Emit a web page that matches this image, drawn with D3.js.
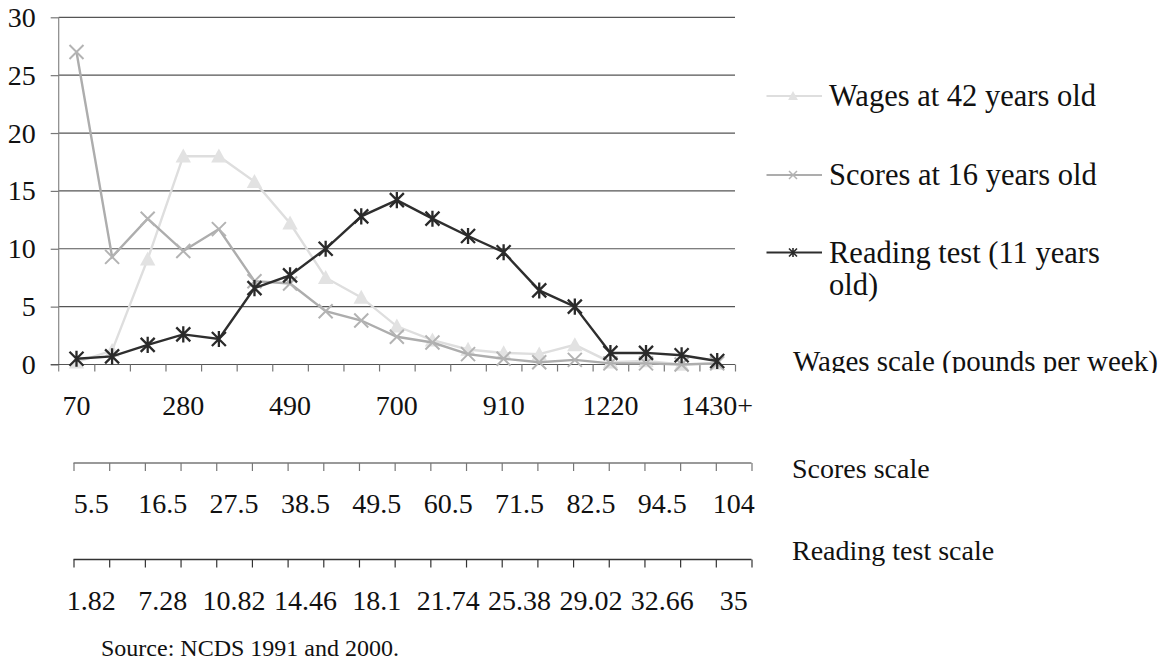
<!DOCTYPE html>
<html>
<head>
<meta charset="utf-8">
<script src="https://cdn.jsdelivr.net/npm/d3@7"></script>
<style>
  html, body { margin: 0; padding: 0; background: #fff; }
  svg { display: block; }
  text { font-family: "Liberation Serif", "Times New Roman", serif; fill: #111; }
</style>
</head>
<body>
<script>
// Distribution (%) by bin, 19 bins
const categories = d3.range(19);
const wages   = [0.2, 1.2, 9.1, 18.0, 18.0, 15.8, 12.2, 7.5, 5.8, 3.3, 2.1, 1.3, 1.0, 0.9, 1.7, 0.2, 0.3, 0.0, 0.1];
const scores  = [27.0, 9.3, 12.6, 9.8, 11.7, 7.2, 7.0, 4.6, 3.8, 2.4, 1.9, 0.9, 0.5, 0.2, 0.4, 0.1, 0.1, 0.0, 0.1];
const reading = [0.5, 0.7, 1.7, 2.6, 2.2, 6.6, 7.7, 10.0, 12.8, 14.2, 12.6, 11.1, 9.7, 6.4, 5.0, 1.0, 1.0, 0.8, 0.3];

const yTicks = [0, 5, 10, 15, 20, 25, 30];
const wageTickLabels    = ["70", "280", "490", "700", "910", "1220", "1430+"];
const scoreTickLabels   = ["5.5", "16.5", "27.5", "38.5", "49.5", "60.5", "71.5", "82.5", "94.5", "104"];
const readingTickLabels = ["1.82", "7.28", "10.82", "14.46", "18.1", "21.74", "25.38", "29.02", "32.66", "35"];

const seriesNames = ["Wages at 42 years old", "Scores at 16 years old", "Reading test (11 years old)"];

const W = 1176, H = 665;
const svg = d3.select("body").append("svg").attr("width", W).attr("height", H);

const plotL = 58.7, plotR = 735, plotT = 17.3, plotB = 364.5;
const x = d3.scaleLinear().domain([0, 19]).range([plotL, plotR]);
const y = d3.scaleLinear().domain([0, 30]).range([plotB, plotT]);

// gridlines
svg.append("g")
  .selectAll("line").data(yTicks.filter(d => d > 0)).join("line")
  .attr("x1", plotL).attr("x2", plotR)
  .attr("y1", d => y(d)).attr("y2", d => y(d))
  .attr("stroke", "#555").attr("stroke-width", 1.2);

// y axis
const yAxis = svg.append("g")
  .attr("transform", `translate(${plotL},0)`)
  .call(d3.axisLeft(y).tickValues(yTicks).tickSize(8).tickPadding(15).tickFormat(d3.format("d")));
yAxis.select(".domain").attr("stroke", "#888").attr("stroke-width", 1.2)
  .attr("d", `M0,${plotT}V${plotB + 7}`);
yAxis.selectAll(".tick line").attr("stroke", "#777").attr("stroke-width", 1.2);
yAxis.selectAll(".tick text").style("font-size", "28px").attr("fill", "#111");

// category (wages) axis
const xAxis = svg.append("g")
  .attr("transform", `translate(0,${plotB})`)
  .call(d3.axisBottom(x).tickValues(d3.range(1, 20)).tickSize(7).tickFormat(""));
xAxis.select(".domain").attr("stroke", "#555").attr("stroke-width", 1.2)
  .attr("d", `M${plotL - 8},0H${plotR}`);
xAxis.selectAll(".tick line").attr("stroke", "#777").attr("stroke-width", 1.2);

svg.append("g").selectAll("text").data(wageTickLabels).join("text")
  .attr("x", (d, i) => x(i * 3 + 0.5)).attr("y", 415)
  .attr("text-anchor", "middle").style("font-size", "28px").text(d => d);

// secondary scales drawn below the plot
const xs = d3.scaleLinear().domain([0, 19]).range([73.5, 751.5]);
function scaleAxis(yPos, labels, labelY, colour) {
  const g = svg.append("g").attr("transform", `translate(0,${yPos})`)
    .call(d3.axisBottom(xs).tickValues(d3.range(0, 20)).tickSize(8).tickFormat(""));
  g.select(".domain").attr("stroke", colour).attr("stroke-width", 1.4)
    .attr("d", `M${xs(0)},0H${xs(19)}`);
  g.selectAll(".tick line").attr("stroke", colour).attr("stroke-width", 1.2);
  svg.append("g").selectAll("text").data(labels).join("text")
    .attr("x", (d, i) => xs(i * 2 + 0.5)).attr("y", labelY)
    .attr("text-anchor", "middle").style("font-size", "28px").text(d => d);
}
scaleAxis(463, scoreTickLabels, 513, "#777");
scaleAxis(559.5, readingTickLabels, 610, "#333");

// marker shapes
function triangle(sel, s, fill) {
  sel.append("path").attr("d", `M0,${-s * 0.55}L${s * 0.55},${s * 0.45}L${-s * 0.55},${s * 0.45}Z`).attr("fill", fill);
}
function cross(sel, s, stroke, w) {
  const h = s / 2;
  sel.append("path").attr("d", `M${-h},${-h}L${h},${h}M${-h},${h}L${h},${-h}`)
    .attr("stroke", stroke).attr("stroke-width", w).attr("fill", "none");
}
function star(sel, s, stroke, w) {
  const h = s / 2;
  sel.append("path").attr("d", `M${-h},${-h}L${h},${h}M${-h},${h}L${h},${-h}M0,${-h * 1.15}V${h * 1.15}`)
    .attr("stroke", stroke).attr("stroke-width", w).attr("fill", "none");
}

const series = [
  { name: seriesNames[0], values: wages,   colour: "#dedede", marker: (s) => triangle(s, 14, "#e2e2e2"), legendMarker: (s) => triangle(s, 9, "#e2e2e2") },
  { name: seriesNames[1], values: scores,  colour: "#adadad", marker: (s) => cross(s, 14, "#b3b3b3", 2),    legendMarker: (s) => cross(s, 8, "#b3b3b3", 1.5) },
  { name: seriesNames[2], values: reading, colour: "#2e2e2e", marker: (s) => star(s, 14, "#2a2a2a", 2.3),   legendMarker: (s) => star(s, 8, "#2a2a2a", 1.6) }
];

const line = d3.line().x((d, i) => x(i + 0.5)).y(d => y(d));

series.forEach(s => {
  const g = svg.append("g");
  g.append("path").datum(s.values).attr("d", line)
    .attr("fill", "none").attr("stroke", s.colour).attr("stroke-width", 2.4);
  g.selectAll("g.m").data(s.values).join("g").attr("class", "m")
    .attr("transform", (d, i) => `translate(${x(i + 0.5)},${y(d)})`)
    .each(function () { s.marker(d3.select(this)); });
});

// legend
const legendY = [96, 175, 252.5];
series.forEach((s, i) => {
  const g = svg.append("g").attr("transform", `translate(0,${legendY[i]})`);
  g.append("line").attr("x1", 766.5).attr("x2", 822).attr("y1", 0).attr("y2", 0)
    .attr("stroke", s.colour).attr("stroke-width", 2);
  const m = g.append("g").attr("transform", "translate(793,0)");
  s.legendMarker(m);
  const t = g.append("text").attr("x", 829).attr("y", 10).style("font-size", "30.5px");
  if (i === 2) {
    t.append("tspan").attr("x", 829).attr("dy", 0).text("Reading test (11 years");
    t.append("tspan").attr("x", 829).attr("dy", 32).text("old)");
  } else {
    t.text(s.name);
  }
});

// scale captions
svg.append("clipPath").attr("id", "capClip")
  .append("rect").attr("x", 760).attr("y", 330).attr("width", 416).attr("height", 43);
svg.append("text").attr("x", 793).attr("y", 371).attr("clip-path", "url(#capClip)")
  .style("font-size", "29px").text("Wages scale (pounds per week)");
svg.append("text").attr("x", 792).attr("y", 478).style("font-size", "28px").text("Scores scale");
svg.append("text").attr("x", 792).attr("y", 560).style("font-size", "28px").text("Reading test scale");

svg.append("text").attr("x", 101).attr("y", 656).style("font-size", "24px").text("Source: NCDS 1991 and 2000.");
</script>
</body>
</html>
